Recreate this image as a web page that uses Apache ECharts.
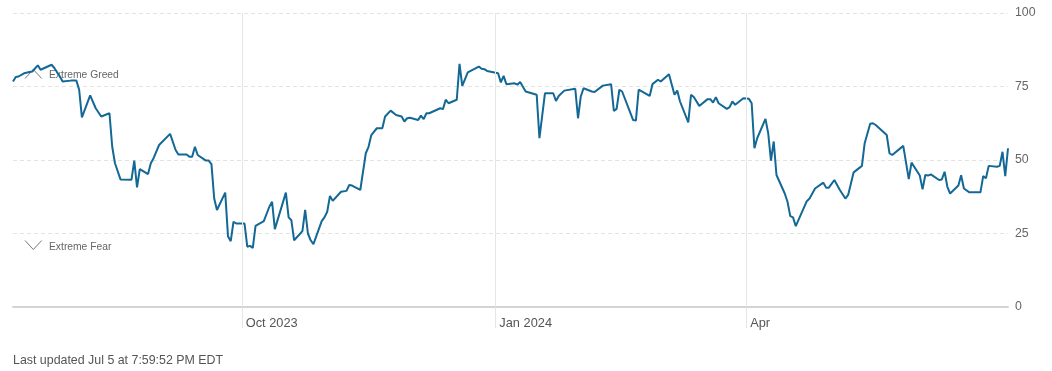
<!DOCTYPE html>
<html>
<head>
<meta charset="utf-8">
<script src="https://cdn.jsdelivr.net/npm/echarts@6/dist/echarts.min.js"></script>
<style>
html,body{margin:0;padding:0;background:#fff;}
#c{width:1052px;height:371px;}
</style>
</head>
<body>
<div id="c"></div>
<script>
const dates = [
'2023-07-10','2023-07-11','2023-07-12','2023-07-14','2023-07-16','2023-07-17','2023-07-19','2023-07-20','2023-07-24','2023-07-25',
'2023-07-27','2023-07-28','2023-07-31','2023-08-02','2023-08-03','2023-08-04','2023-08-07','2023-08-09','2023-08-11','2023-08-14',
'2023-08-15','2023-08-16','2023-08-18','2023-08-22','2023-08-23','2023-08-24','2023-08-25','2023-08-28','2023-08-29','2023-08-30',
'2023-09-01','2023-09-05','2023-09-07','2023-09-08','2023-09-11','2023-09-12','2023-09-13','2023-09-14','2023-09-15','2023-09-18',
'2023-09-19','2023-09-20','2023-09-21','2023-09-22','2023-09-25','2023-09-26','2023-09-27','2023-09-28','2023-09-29','2023-10-02',
'2023-10-03','2023-10-04','2023-10-05','2023-10-06','2023-10-09','2023-10-11','2023-10-12','2023-10-13','2023-10-17','2023-10-18',
'2023-10-19','2023-10-20','2023-10-23','2023-10-24','2023-10-25','2023-10-26','2023-10-27','2023-10-30','2023-10-31','2023-11-01',
'2023-11-02','2023-11-03','2023-11-06','2023-11-08','2023-11-09','2023-11-10','2023-11-13','2023-11-15','2023-11-16','2023-11-17',
'2023-11-19','2023-11-21','2023-11-22','2023-11-24','2023-11-26','2023-11-28','2023-11-29','2023-11-30','2023-12-01','2023-12-04',
'2023-12-05','2023-12-06','2023-12-07','2023-12-08','2023-12-12','2023-12-13','2023-12-14','2023-12-15','2023-12-18','2023-12-19',
'2023-12-20','2023-12-22','2023-12-26','2023-12-27','2023-12-28','2023-12-29','2024-01-02','2024-01-03','2024-01-04','2024-01-05',
'2024-01-08','2024-01-09','2024-01-10','2024-01-12','2024-01-16','2024-01-17','2024-01-19','2024-01-22','2024-01-23','2024-01-24',
'2024-01-26','2024-01-30','2024-01-31','2024-02-01','2024-02-02','2024-02-05','2024-02-06','2024-02-09','2024-02-12','2024-02-13',
'2024-02-14','2024-02-15','2024-02-16','2024-02-20','2024-02-21','2024-02-22','2024-02-26','2024-02-27','2024-02-29','2024-03-01',
'2024-03-04','2024-03-06','2024-03-07','2024-03-08','2024-03-11','2024-03-12','2024-03-13','2024-03-15','2024-03-18','2024-03-19',
'2024-03-20','2024-03-21','2024-03-22','2024-03-25','2024-03-26','2024-03-27','2024-03-28','2024-03-31','2024-04-02','2024-04-03',
'2024-04-04','2024-04-05','2024-04-08','2024-04-09','2024-04-10','2024-04-11','2024-04-12','2024-04-15','2024-04-16','2024-04-17',
'2024-04-18','2024-04-19','2024-04-23','2024-04-24','2024-04-26','2024-04-29','2024-04-30','2024-05-01','2024-05-03','2024-05-05',
'2024-05-07','2024-05-08','2024-05-10','2024-05-13','2024-05-14','2024-05-16','2024-05-17','2024-05-18','2024-05-22','2024-05-23',
'2024-05-24','2024-05-28','2024-05-30','2024-05-31','2024-06-03','2024-06-04','2024-06-05','2024-06-06','2024-06-07','2024-06-10',
'2024-06-11','2024-06-12','2024-06-13','2024-06-14','2024-06-17','2024-06-18','2024-06-19','2024-06-21','2024-06-25','2024-06-26',
'2024-06-27','2024-06-28','2024-07-01','2024-07-02','2024-07-03','2024-07-04','2024-07-05'
];
const values = [
76.7,78.2,78.4,79.5,79.9,80.1,82.2,80.7,82.4,81.3,
78.4,76.7,77,77,73.9,64.5,72,67.6,64.8,65.9,
54.5,48.9,43.4,43.3,49.8,40.7,46.9,45.2,48.9,50.6,
55.1,58.9,53.4,51.9,51.9,51.1,51.1,54.5,51.7,49.8,
49.8,48.6,36.9,33,38.9,24.1,22.4,29,28.4,28.4,
20.5,20.8,20.1,27.6,29.2,34.1,35.8,26.5,38.9,30.5,
29.5,22.7,25.8,33,25,22.7,21.4,29.2,30.5,32.4,
37.8,36.1,39.2,39.5,41.5,41.3,39.8,52.3,54.5,58.5,
60.8,60.8,64.8,66.8,65.3,64.8,63.1,64.2,64.4,63.6,
65.1,63.9,65.9,65.9,67.6,67.3,70.5,69.3,70.5,82.7,
75.2,79.8,81.8,81,80.9,80.3,79.5,76.4,78.6,75.8,
76.1,75.6,76.5,73.3,72.2,57.4,72.7,72.7,70.1,71.8,
73.6,74.2,64.2,71.6,74.4,73.3,73.1,75.3,75.8,66.7,
67.4,73.9,73.3,63.6,63.4,73.9,71.8,75.8,77.3,76.7,
79.2,72.2,73.6,69.9,62.8,72.2,71.4,68.4,70.7,70.7,
69.5,71.4,69.3,67.4,68,69.9,68.8,71,70.8,69.3,
54,57.4,64,59.1,49.8,56.3,44.9,38.6,35.8,30.9,
30.5,27.5,36,36.9,40.3,42.3,40.6,40.6,43.2,39.8,
36.9,38.1,45.8,48,55.7,62.3,62.5,61.9,58.5,52.3,
51.7,54.8,43.5,49.1,44.7,40,44.9,44.7,45.1,43.2,
43.4,46,40.9,38.6,41.3,44.8,40.3,39,39,44.5,
43.8,48,47.7,48,52.8,44.5,54
];
const tickDates = ['2023-10-01','2024-01-01','2024-04-01'];
const tickLabels = ['Oct 2023','Jan 2024','Apr'];
const yMin = 0, yMax = 100, yStep = 25;
const zoneLabels = ['Extreme Greed','Extreme Fear'];
const zoneLevels = [75, 25];
const footerText = 'Last updated Jul 5 at 7:59:52 PM EDT';

const FONT = '"Liberation Sans", Arial, Helvetica, sans-serif';
const chart = echarts.init(document.getElementById('c'), null, {renderer: 'canvas'});

chart.setOption({
  animation: false,
  backgroundColor: '#fff',
  title: {
    text: footerText,
    left: 13, top: 355, padding: 0,
    textStyle: {fontSize: 12.4, fontWeight: 'normal', color: '#555', fontFamily: FONT}
  },
  grid: {left: 13, right: 44, top: 13, bottom: 64, containLabel: false},
  xAxis: {
    type: 'time',
    min: dates[0], max: dates[dates.length - 1],
    axisLine: {show: true, lineStyle: {color: '#d4d4d4', width: 2}},
    axisTick: {show: false},
    axisLabel: {show: false},
    splitLine: {show: false}
  },
  yAxis: {
    type: 'value', position: 'right',
    min: yMin, max: yMax, interval: yStep,
    axisLine: {show: false}, axisTick: {show: false},
    axisLabel: {color: '#666', fontSize: 12.3, margin: 7, fontFamily: FONT},
    splitLine: {show: true, lineStyle: {color: '#e3e3e3', type: [4, 3], width: 1}}
  },
  series: [
    {
      type: 'line', data: [], z: 1, silent: true,
      markLine: {
        silent: true, symbol: ['none', 'none'],
        label: {
          show: true, position: 'start', distance: 10,
          align: 'left', padding: [0, 0, 0, 4],
          color: '#555', fontSize: 12.8, fontFamily: FONT,
          formatter: function (p) { return tickLabels[p.dataIndex]; }
        },
        lineStyle: {color: '#e6e6e6', type: 'solid', width: 1},
        data: tickDates.map(d => ({xAxis: d}))
      }
    },
    {
      type: 'line', z: 3,
      data: dates.map((d, i) => [d, values[i]]),
      showSymbol: false, symbol: 'none',
      lineStyle: {color: '#136896', width: 2},
      itemStyle: {color: '#136896'}
    }
  ]
});

const x0 = chart.convertToPixel({xAxisIndex: 0}, dates[0]);
const yG = chart.convertToPixel({yAxisIndex: 0}, zoneLevels[0]);
const yF = chart.convertToPixel({yAxisIndex: 0}, zoneLevels[1]);
const yBase = chart.convertToPixel({yAxisIndex: 0}, yMin);
const graphics = [
  {type: 'polyline', z: 2, shape: {points: [[x0 + 12, yG - 8], [x0 + 20.3, yG - 17], [x0 + 28.7, yG - 8]]},
   style: {stroke: '#777', lineWidth: 1, fill: null}},
  {type: 'text', z: 2, style: {text: zoneLabels[0], x: x0 + 36, y: yG - 11, fill: '#666', font: '10.3px ' + FONT, verticalAlign: 'middle'}},
  {type: 'polyline', z: 2, shape: {points: [[x0 + 12, yF + 7], [x0 + 20.3, yF + 16], [x0 + 28.7, yF + 7]]},
   style: {stroke: '#777', lineWidth: 1, fill: null}},
  {type: 'text', z: 2, style: {text: zoneLabels[1], x: x0 + 36, y: yF + 13.5, fill: '#666', font: '10.3px ' + FONT, verticalAlign: 'middle'}}
];
tickDates.forEach(d => {
  const tx = Math.round(chart.convertToPixel({xAxisIndex: 0}, d)) + 0.5;
  graphics.push({type: 'line', z: 0, shape: {x1: tx, y1: yBase, x2: tx, y2: yBase + 21},
    style: {stroke: '#e6e6e6', lineWidth: 1}});
});
chart.setOption({graphic: graphics});
</script>
</body>
</html>
